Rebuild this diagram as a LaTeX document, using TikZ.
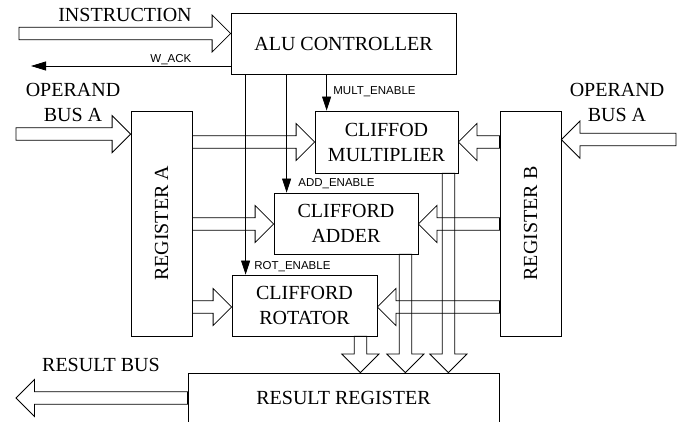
\documentclass[tikz,border=0pt]{standalone}
\usepackage{fontspec}
\setmainfont{Liberation Serif}
\newfontfamily\labfont{Liberation Sans}
\usetikzlibrary{calc,arrows.meta}
\def\hw{6.25pt}\def\hh{18.5pt}\def\hl{18.5pt}
\newcommand\harrow[2]{\draw[blk] let \p1=#1, \p2=#2, \p3=($#2!\hl!#1$) in
  (\x1,\y2+\hw) -- (\x3,\y2+\hw) -- (\x3,\y2+\hh) -- (\p2) -- (\x3,\y2-\hh) -- (\x3,\y2-\hw) -- (\x1,\y2-\hw) -- cycle;}
\newcommand\varrow[2]{\draw[blk] let \p1=#1, \p2=#2, \p3=($#2!\hl!#1$) in
  (\x2+\hw,\y1) -- (\x2+\hw,\y3) -- (\x2+\hh,\y3) -- (\p2) -- (\x2-\hh,\y3) -- (\x2-\hw,\y3) -- (\x2-\hw,\y1) -- cycle;}
\begin{document}
\begin{tikzpicture}[x=1pt,y=-1pt,line width=0.8pt,
  box/.style={draw, inner sep=0pt, align=center, font=\fontsize{20}{25}\selectfont},
  big/.style={inner sep=0pt, align=center, font=\fontsize{20}{25}\selectfont},
  sig/.style={inner sep=0pt, font=\labfont\fontsize{11.5}{13}\selectfont},
  blk/.style={draw, line join=miter},
  enable/.style={draw, -{Triangle[length=14pt,width=9pt]}}]
\clip (0,0) rectangle (681,422);
% boxes
\node[box, minimum width=225pt, minimum height=61pt] (alu) at (343.5,43.5) {ALU CONTROLLER};
\node[box, minimum width=61pt, minimum height=225pt,
  label={[rotate=90,big]center:REGISTER A}] (regA) at (161.5,223.5) {};
\node[box, minimum width=61pt, minimum height=225pt,
  label={[rotate=90,big]center:REGISTER B}] (regB) at (530.5,223.5) {};
\node[box, minimum width=143pt, minimum height=62pt] (mult) at (386.5,142) {CLIFFOD\\MULTIPLIER};
\node[box, minimum width=144pt, minimum height=61pt] (add) at (346,223.5) {CLIFFORD\\ADDER};
\node[box, minimum width=145pt, minimum height=61pt] (rot) at (304.5,305.5) {CLIFFORD\\ROTATOR};
\node[box, minimum width=311pt, minimum height=50.5pt] (res) at (343.5,398.25) {RESULT REGISTER};
% free ends
\coordinate (instail) at (19,33.5);
\coordinate (opAtail) at (16,134.5);
\coordinate (opBtail) at (676,140);
\coordinate (resbus) at (16,398);
\coordinate (wack) at (31,66);
% external labels
\node[big] (tins) at (125,15) {INSTRUCTION};
\node[big] (topA) at (73,102.5) {OPERAND\\BUS A};
\node[big] (topB) at (617,102.5) {OPERAND\\BUS A};
\node[big] (tres) at (101,365) {RESULT BUS};
% block arrows
\harrow{(instail)}{([yshift=10pt]alu.west)}
\harrow{(opAtail)}{([yshift=-23.5pt]regA.north west)}
\harrow{(opBtail)}{([yshift=-29pt]regB.north east)}
\harrow{(regA.east |- mult.west)}{(mult.west)}
\harrow{(regA.east |- add.west)}{([yshift=-0.5pt]add.west)}
\harrow{(regA.east |- rot.west)}{([yshift=-1.5pt]rot.west)}
\harrow{(regB.west |- mult.east)}{(mult.east)}
\harrow{(regB.west |- add.east)}{([yshift=-0.5pt]add.east)}
\harrow{(regB.west |- rot.east)}{([yshift=-1.5pt]rot.east)}
\harrow{(res.west)}{(resbus)}
\coordinate (mv) at ([xshift=-10pt]mult.south east);
\coordinate (av) at ([xshift=-13pt]add.south east);
\coordinate (rv) at ([xshift=-17pt]rot.south east);
\varrow{(mv)}{(mv |- res.north)}
\varrow{(av)}{(av |- res.north)}
\varrow{(rv)}{(rv |- res.north)}
% control signals
\coordinate (rotin) at ([xshift=14pt]rot.north west);
\coordinate (addin) at ([xshift=13pt]add.north west);
\coordinate (multin) at ([xshift=12pt]mult.north west);
\draw[enable] (rotin |- alu.south) -- (rotin);
\draw[enable] (addin |- alu.south) -- (addin);
\draw[enable] (multin |- alu.south) -- (multin);
\draw[draw, -{Triangle[length=15pt,width=9pt]}] (alu.west |- wack) -- (wack);
\node[sig, anchor=base west] (lwack) at (150,63) {W\_ACK};
\node[sig, anchor=base west] (lmult) at (333,95) {MULT\_ENABLE};
\node[sig, anchor=base west] (ladd) at (298,187) {ADD\_ENABLE};
\node[sig, anchor=base west] (lrot) at (254,270) {ROT\_ENABLE};
\end{tikzpicture}
\end{document}
